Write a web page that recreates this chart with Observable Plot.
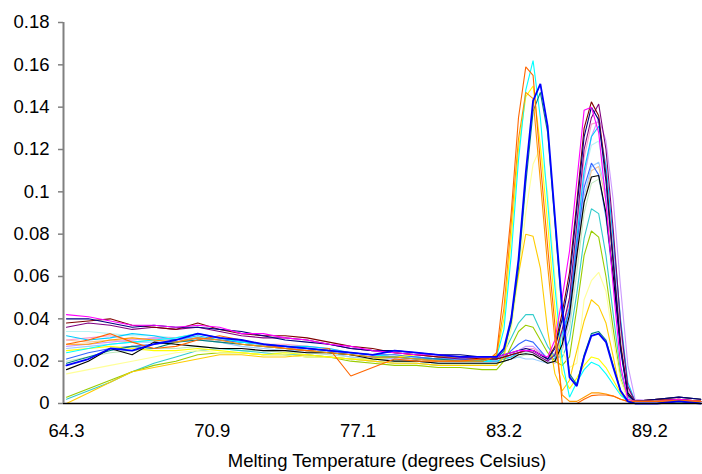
<!DOCTYPE html>
<html><head><meta charset="utf-8">
<script src="https://cdn.jsdelivr.net/npm/d3@7"></script>
<script src="https://cdn.jsdelivr.net/npm/@observablehq/plot@0.6"></script>
<style>body{margin:0;background:#fff}</style>
</head><body><div id="chart"></div>
<script>
// category index of each sampled reading (categories are ~0.3 °C apart)
const idx = [0,3,6,9,12,15,18,21,24,27,30,33,36,39,42,45,48,51,54,57,58,59,60,61,62,63,64,65,66,67,68,69,70,71,72,73,74,75,76,77,78,81,84,87];
const tickIdx = [0,20,40,60,80];
const tickLabels = ["64.3","70.9","77.1","83.2","89.2"];
const yTicks = [0,0.02,0.04,0.06,0.08,0.1,0.12,0.14,0.16,0.18];
const xTitle = "Melting Temperature (degrees Celsius)";

const lightTurquoise = [0.034,0.034,0.033,0.032,0.032,0.031,0.031,0.030,0.029,0.028,0.027,0.026,0.025,0.024,0.023,0.023,0.022,0.021,0.021,0.021, 0.021,0.021,0.021,0.022,0.023,0.024,0.024,0.022,0.020,0.022,0.032,0.045,0.078,0.108,0.122,0.124,0.105,0.070,0.032,0.006,0.001, 0.001,0.001,0.001];
const lightGreen = [0.020,0.022,0.024,0.025,0.026,0.026,0.027,0.026,0.025,0.025,0.024,0.024,0.023,0.022,0.021,0.020,0.020,0.019,0.019,0.019, 0.019,0.019,0.020,0.021,0.022,0.023,0.023,0.021,0.019,0.020,0.026,0.035,0.062,0.090,0.104,0.106,0.090,0.060,0.026,0.004,0.001, 0.001,0.001,0.001];
const tan = [0.030,0.029,0.030,0.029,0.030,0.030,0.031,0.029,0.028,0.027,0.027,0.026,0.025,0.023,0.022,0.021,0.021,0.020,0.020,0.020, 0.020,0.020,0.021,0.022,0.023,0.025,0.025,0.023,0.021,0.023,0.030,0.040,0.068,0.095,0.110,0.112,0.096,0.066,0.030,0.005,0.001, 0.001,0.001,0.001];
const rose = [0.030,0.031,0.032,0.030,0.031,0.031,0.033,0.031,0.029,0.028,0.028,0.027,0.026,0.024,0.023,0.022,0.021,0.021,0.020,0.020, 0.020,0.020,0.021,0.022,0.024,0.026,0.026,0.024,0.021,0.024,0.034,0.048,0.082,0.116,0.132,0.133,0.112,0.076,0.036,0.007,0.001, 0.001,0.001,0.001];
const lavender = [0.027,0.028,0.029,0.030,0.031,0.030,0.031,0.030,0.028,0.027,0.026,0.026,0.025,0.023,0.022,0.021,0.021,0.020,0.020,0.020, 0.020,0.020,0.021,0.023,0.025,0.027,0.027,0.024,0.020,0.019,0.025,0.040,0.072,0.106,0.126,0.135,0.124,0.096,0.055,0.018,0.002, 0.001,0.001,0.001];
const paleBlue = [0.026,0.027,0.028,0.029,0.029,0.029,0.030,0.029,0.027,0.026,0.025,0.025,0.024,0.022,0.021,0.021,0.020,0.019,0.019,0.019, 0.019,0.019,0.020,0.021,0.022,0.021,0.021,0.020,0.019,0.020,0.028,0.040,0.070,0.098,0.112,0.114,0.100,0.072,0.036,0.008,0.001, 0.001,0.001,0.001];
const skyBlue = [0.032,0.030,0.031,0.033,0.032,0.030,0.032,0.030,0.029,0.028,0.027,0.027,0.026,0.024,0.023,0.022,0.022,0.021,0.021,0.020, 0.020,0.020,0.021,0.022,0.024,0.025,0.025,0.023,0.021,0.023,0.033,0.045,0.078,0.110,0.126,0.131,0.112,0.078,0.040,0.010,0.001, 0.001,0.001,0.001];
const lightBlue = [0.021,0.024,0.026,0.027,0.028,0.029,0.031,0.030,0.029,0.028,0.027,0.026,0.025,0.024,0.023,0.023,0.022,0.021,0.021,0.021, 0.021,0.021,0.022,0.025,0.028,0.030,0.029,0.025,0.021,0.021,0.030,0.045,0.075,0.102,0.1136,0.108,0.088,0.058,0.025,0.004,0.001, 0.001,0.001,0.001];
const aqua = [0.002,0.006,0.010,0.015,0.019,0.022,0.025,0.026,0.025,0.024,0.023,0.023,0.022,0.021,0.020,0.019,0.019,0.018,0.018,0.018, 0.018,0.018,0.024,0.031,0.038,0.042,0.042,0.0345,0.027,0.022,0.022,0.030,0.052,0.078,0.092,0.0897,0.070,0.042,0.015,0.003,0.001, 0.001,0.001,0.001];
const lime = [0.003,0.007,0.011,0.015,0.018,0.020,0.023,0.024,0.024,0.023,0.023,0.022,0.022,0.020,0.019,0.018,0.018,0.017,0.017,0.016, 0.016,0.016,0.020,0.027,0.034,0.037,0.036,0.030,0.024,0.020,0.018,0.022,0.045,0.070,0.0815,0.0786,0.060,0.035,0.012,0.002,0.001, 0.001,0.001,0.001];
const lightYellow = [0.014,0.016,0.018,0.020,0.022,0.024,0.025,0.024,0.024,0.023,0.023,0.022,0.022,0.021,0.020,0.019,0.019,0.018,0.018,0.018, 0.018,0.018,0.022,0.035,0.060,0.090,0.113,0.121,0.100,0.060,0.025,0.017,0.019,0.049,0.058,0.062,0.053,0.030,0.011,0.002,0.000, 0.000,0.001,0.000];
const gold = [0.000,0.005,0.010,0.015,0.017,0.019,0.021,0.023,0.023,0.022,0.022,0.023,0.022,0.021,0.020,0.019,0.019,0.018,0.018,0.018, 0.018,0.018,0.022,0.041,0.061,0.080,0.079,0.064,0.0345,0.014,0.006,0.011,0.025,0.039,0.049,0.046,0.038,0.022,0.005,0.001,0.000, 0.000,0.001,0.000];
const yellow = [0.025,0.026,0.027,0.026,0.025,0.025,0.026,0.025,0.024,0.023,0.024,0.023,0.022,0.021,0.021,0.022,0.023,0.022,0.022,0.021, 0.021,0.023,0.040,0.078,0.120,0.145,0.150,0.122,0.085,0.045,0.014,0.007,0.012,0.018,0.022,0.021,0.017,0.011,0.005,0.001,0.000, 0.000,0.001,0.000];
const cyan = [0.024,0.026,0.028,0.029,0.030,0.031,0.033,0.031,0.029,0.028,0.027,0.026,0.025,0.024,0.023,0.022,0.021,0.020,0.020,0.020, 0.020,0.022,0.035,0.070,0.115,0.148,0.162,0.135,0.095,0.055,0.020,0.003,0.010,0.016,0.0195,0.018,0.014,0.009,0.004,0.001,0.000, 0.000,0.001,0.000];
const teal = [0.019,0.022,0.025,0.027,0.026,0.029,0.030,0.029,0.028,0.027,0.026,0.025,0.024,0.023,0.022,0.022,0.021,0.021,0.020,0.020, 0.021,0.021,0.025,0.038,0.064,0.104,0.138,0.147,0.128,0.085,0.042,0.014,0.009,0.023,0.033,0.034,0.030,0.018,0.006,0.001,0.000, 0.000,0.001,0.000];
const black = [0.016,0.020,0.026,0.023,0.029,0.028,0.027,0.026,0.026,0.025,0.025,0.024,0.024,0.023,0.021,0.020,0.020,0.019,0.019,0.019, 0.019,0.019,0.020,0.021,0.023,0.0235,0.023,0.021,0.019,0.020,0.028,0.042,0.070,0.095,0.107,0.1077,0.090,0.060,0.027,0.005,0.001, 0.002,0.003,0.002];
const purple = [0.036,0.038,0.037,0.035,0.036,0.035,0.036,0.034,0.032,0.031,0.031,0.030,0.028,0.026,0.025,0.024,0.023,0.022,0.021,0.021, 0.021,0.021,0.022,0.023,0.024,0.025,0.024,0.022,0.020,0.023,0.035,0.050,0.085,0.120,0.135,0.1415,0.120,0.082,0.038,0.008,0.001, 0.001,0.002,0.001];
const maroon = [0.038,0.039,0.040,0.037,0.036,0.035,0.038,0.035,0.033,0.032,0.032,0.031,0.029,0.027,0.026,0.024,0.023,0.022,0.022,0.021, 0.021,0.021,0.022,0.023,0.024,0.025,0.025,0.023,0.021,0.027,0.043,0.062,0.095,0.130,0.1425,0.136,0.108,0.068,0.028,0.004,0.001, 0.002,0.002,0.001];
const navy = [0.040,0.040,0.038,0.036,0.037,0.036,0.036,0.035,0.034,0.032,0.030,0.029,0.028,0.026,0.025,0.025,0.024,0.023,0.023,0.022, 0.022,0.022,0.023,0.024,0.025,0.026,0.025,0.023,0.021,0.026,0.040,0.058,0.092,0.126,0.140,0.134,0.105,0.066,0.026,0.004,0.001, 0.002,0.003,0.002];
const magenta = [0.042,0.041,0.039,0.037,0.037,0.036,0.037,0.036,0.033,0.033,0.031,0.030,0.028,0.027,0.025,0.024,0.023,0.023,0.022,0.022, 0.022,0.022,0.023,0.024,0.025,0.025,0.025,0.023,0.022,0.030,0.050,0.072,0.105,0.1385,0.140,0.128,0.095,0.055,0.018,0.002,0.001, 0.001,0.002,0.001];
const lightOrange = [0.028,0.028,0.030,0.031,0.030,0.029,0.031,0.030,0.028,0.027,0.026,0.025,0.024,0.023,0.022,0.022,0.021,0.020,0.020,0.020, 0.021,0.023,0.045,0.085,0.125,0.147,0.144,0.105,0.065,0.030,0.004,0.001,0.001,0.003,0.005,0.005,0.0045,0.0035,0.002,0.001,0.001, 0.001,0.001,0.001];
const orange = [0.028,0.030,0.033,0.029,0.026,0.027,0.030,0.032,0.030,0.028,0.026,0.025,0.026,0.013,0.017,0.021,0.020,0.020,0.020,0.021, 0.021,0.024,0.054,0.090,0.135,0.159,0.155,0.114,0.074,0.037,0.000,0.000,0.000,0.002,0.0037,0.004,0.004,0.0035,0.002,0.001,0.001, 0.001,0.0015,0.001];
const blue = [0.018,0.021,0.026,0.025,0.028,0.030,0.033,0.031,0.030,0.028,0.027,0.026,0.025,0.024,0.023,0.025,0.024,0.023,0.022,0.022, 0.022,0.022,0.026,0.040,0.068,0.109,0.143,0.151,0.131,0.088,0.045,0.0124,0.0082,0.022,0.032,0.033,0.029,0.017,0.006,0.001,0.000, 0.000,0.001,0.000];

const seriesNames = ["lightTurquoise","lightGreen","tan","rose","lavender","paleBlue","skyBlue","lightBlue","aqua","lime","lightYellow","gold","yellow","cyan","teal","black","purple","maroon","navy","magenta","lightOrange","orange","blue"];
const seriesColors = ["#b8f4f4","#bde8bd","#f5c79a","#ff99cc","#cc99ff","#99ccff","#00ccff","#3366ff","#33cccc","#99cc00","#ffff99","#ffcc00","#ffff00","#00ffff","#008080","#000000","#800080","#800000","#000080","#ff00ff","#ff9900","#ff6600","#0000ff"];
const seriesValues = [lightTurquoise,lightGreen,tan,rose,lavender,paleBlue,skyBlue,lightBlue,aqua,lime,lightYellow,gold,yellow,cyan,teal,black,purple,maroon,navy,magenta,lightOrange,orange,blue];

const rows = [];
seriesNames.forEach((name, k) => {
  const vals = seriesValues[k];
  for (let j = 0; j < Math.min(vals.length, idx.length); j++) rows.push({series: name, i: idx[j], v: vals[j]});
  if (vals.length !== idx.length) console.warn(name, vals.length);
});
const thin = rows.filter(d => d.series !== "blue");
const thick = rows.filter(d => d.series === "blue");

const chart = Plot.plot({
  width: 702, height: 474,
  marginLeft: 63, marginRight: 0, marginTop: 22, marginBottom: 71,
  style: {fontFamily: "'Liberation Sans', Arial, sans-serif", fontSize: "18.5px", color: "#000", background: "#fff"},
  x: {domain: [-0.41, 87.24]},
  y: {domain: [0, 0.18]},
  color: {domain: seriesNames, range: seriesColors},
  marks: [
    Plot.lineY(thin, {x: "i", y: "v", z: "series", stroke: "series", strokeWidth: 1.1, strokeLinejoin: "miter"}),
    Plot.lineY(thick, {x: "i", y: "v", z: "series", stroke: "series", strokeWidth: 1.8, strokeLinejoin: "miter"}),
    Plot.ruleY([0], {stroke: "#000", strokeWidth: 1.5}),
    Plot.ruleX([-0.41], {stroke: "#808080", strokeWidth: 2}),
    Plot.axisY({ticks: yTicks, tickSize: 5, tickPadding: 9, stroke: "#808080", strokeWidth: 1.5,
      tickFormat: d => String(+d.toFixed(2)), label: null, fill: "#000"}),
    Plot.axisX({ticks: tickIdx, tickSize: 0, tickPadding: 20, label: null, fill: "#000",
      tickFormat: d => tickLabels[tickIdx.indexOf(d)]}),
    Plot.text([xTitle], {frameAnchor: "bottom", dy: 63, dx: 4, textAnchor: "middle", fill: "#000", fontSize: 18.5})
  ]
});
document.getElementById("chart").append(chart);
</script>
</body></html>
